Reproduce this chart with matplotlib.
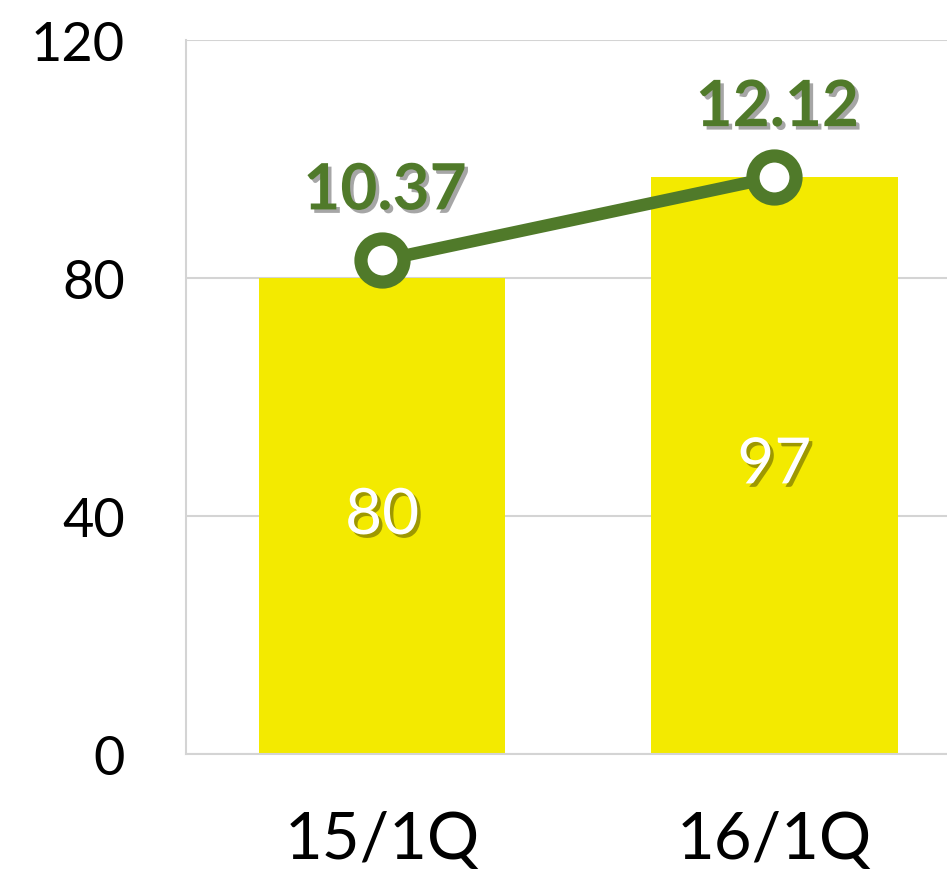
import matplotlib
matplotlib.use("Agg")
import matplotlib.pyplot as plt
import matplotlib.patheffects as pe

# Data
categories = ["15/1Q", "16/1Q"]
bar_values = [80, 97]
line_values = [10.37, 12.12]
y_ticks = [0, 40, 80, 120]

yellow = "#F3EA00"
green = "#507A2A"
grid_gray = "#D4D4D4"

plt.rcParams['font.family'] = ['Lato', 'DejaVu Sans']

fig = plt.figure(figsize=(9.47, 8.7), dpi=100)
ax = fig.add_axes([0.1964, 0.1322, 0.8036, 0.8207])

x = list(range(len(categories)))
bars = ax.bar(x, bar_values, width=0.628, color=yellow, zorder=2)

ax.set_ylim(0, 120)
ax.set_xlim(-0.5, 1.44)
ax.set_yticks(y_ticks)
ax.set_xticks(x)
ax.set_xticklabels(categories)
ax.yaxis.grid(True, color=grid_gray, linewidth=1.5, zorder=0)
ax.set_axisbelow(True)
ax.tick_params(axis='y', length=0, pad=44, labelsize=39)
ax.tick_params(axis='x', length=0, pad=40, labelsize=47)
for s in ['top', 'right']:
    ax.spines[s].set_visible(False)
for s in ['left', 'bottom']:
    ax.spines[s].set_color(grid_gray)
    ax.spines[s].set_linewidth(1.5)

shadow = [pe.withSimplePatchShadow(offset=(2.5, -2.5), shadow_rgbFace='black', alpha=0.35)]

# bar labels
for xi, v in zip(x, bar_values):
    ax.text(xi, v / 2, str(v), ha='center', va='center', fontsize=46,
            color='white', path_effects=shadow, zorder=5)

# line on secondary axis
ax2 = ax.twinx()
ax2.set_ylim(0, 15)
ax2.axis('off')
ax2.plot(x, line_values, color=green, linewidth=9, marker='o', markersize=31,
         markerfacecolor='white', markeredgecolor=green, markeredgewidth=9.5,
         solid_capstyle='round', zorder=4)
for xi, v in zip(x, line_values):
    ax2.annotate(f"{v:.2f}", (xi, v), xytext=(2, 50), textcoords='offset points',
                 ha='center', va='center', fontsize=46, fontweight='bold',
                 color=green, path_effects=shadow)

fig.savefig("out.png", dpi=100)
